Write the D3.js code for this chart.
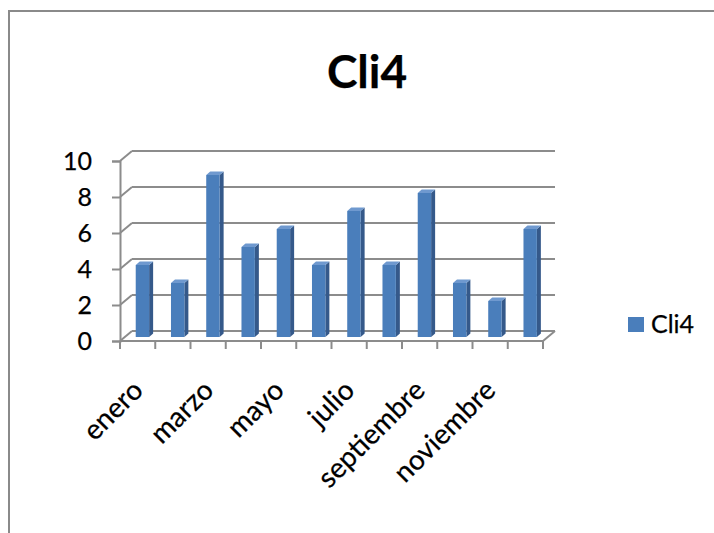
<!DOCTYPE html>
<html>
<head>
<meta charset="utf-8">
<script src="https://cdn.jsdelivr.net/npm/d3@7"></script>
<style>
  html, body { margin: 0; padding: 0; background: #fff; }
  svg { display: block; }
  text { font-family: Lato, "Open Sans", sans-serif; fill: #000; stroke: #000; stroke-width: 0.25px; }
</style>
</head>
<body>
<script>
// Monthly counts for Cli4
const months = ["enero", "febrero", "marzo", "abril", "mayo", "junio",
                "julio", "agosto", "septiembre", "octubre", "noviembre", "diciembre"];
const values = [4, 3, 9, 5, 6, 4, 7, 4, 8, 3, 2, 6];
const yTicks = [0, 2, 4, 6, 8, 10];
const shownLabels = ["enero", "marzo", "mayo", "julio", "septiembre", "noviembre"];
const seriesName = "Cli4";

const W = 714, H = 533;
const svg = d3.select("body").append("svg").attr("width", W).attr("height", H);

// chart area frame (runs off the right and bottom edges)
svg.append("rect")
  .attr("x", 9).attr("y", 11).attr("width", 720).attr("height", 540)
  .attr("fill", "#fff").attr("stroke", "#8a8a8a").attr("stroke-width", 2);

// 3D projection: depth offset of the back wall
const DX = 12, DY = -10;

const x = d3.scaleBand().domain(months).range([120, 543]).padding(0);
const y = d3.scaleLinear().domain([0, 10]).range([341, 161]);

const gridColor = "#8c8c8c";
const grid = svg.append("g").attr("stroke", gridColor).attr("stroke-width", 2).attr("fill", "none");

// back wall gridlines with side-wall connectors
yTicks.forEach(v => {
  grid.append("line")
    .attr("x1", x.range()[0] + DX).attr("x2", x.range()[1] + DX)
    .attr("y1", y(v) + DY).attr("y2", y(v) + DY);
  grid.append("line")
    .attr("x1", x.range()[0]).attr("y1", y(v))
    .attr("x2", x.range()[0] + DX).attr("y2", y(v) + DY);
});
// floor front edge and right connector
grid.append("line")
  .attr("x1", x.range()[0]).attr("x2", x.range()[1])
  .attr("y1", y(0)).attr("y2", y(0));
grid.append("line")
  .attr("x1", x.range()[1]).attr("y1", y(0))
  .attr("x2", x.range()[1] + DX).attr("y2", y(0) + DY);

// value axis
const yAxis = d3.axisLeft(y).tickValues(yTicks).tickSize(8).tickPadding(20);
const ya = svg.append("g").attr("transform", `translate(${x.range()[0]},0)`).call(yAxis);
ya.select(".domain").attr("stroke", gridColor).attr("stroke-width", 2);
ya.selectAll(".tick line").attr("stroke", gridColor).attr("stroke-width", 2);
ya.selectAll(".tick text").style("font-size", "25px").attr("fill", "#000");

// category axis tick marks at band boundaries
const ticksX = months.map(m => x(m)).concat([x.range()[1]]);
svg.append("g").attr("stroke", gridColor).attr("stroke-width", 2)
  .selectAll("line").data(ticksX).join("line")
  .attr("x1", d => d).attr("x2", d => d)
  .attr("y1", y(0)).attr("y2", y(0) + 8);

// category labels (every other month), rotated
svg.append("g").selectAll("text").data(shownLabels).join("text")
  .attr("transform", d => `translate(${x(d) + x.bandwidth() / 2 + 7},392) rotate(-45)`)
  .attr("text-anchor", "end")
  .style("font-size", "28px")
  .text(d => d);

// 3D bars: front face, right side, top
const bw = x.bandwidth() * 0.38;
const depthFrac = 0.4;
const bdx = 4, bdy = -3.5;
const bars = svg.append("g").selectAll("g").data(months.map((m, i) => ({ m, v: values[i] }))).join("g");
bars.each(function (d) {
  const g = d3.select(this);
  const x0 = x(d.m) + (x.bandwidth() - bw) / 2 + DX * depthFrac;
  const yb = y(0) + DY * depthFrac;
  const yt = y(d.v) + DY * depthFrac;
  const x1 = x0 + bw;
  g.append("polygon")
    .attr("points", [[x1, yt], [x1 + bdx, yt + bdy], [x1 + bdx, yb + bdy], [x1, yb]].join(" "))
    .attr("fill", "#35598a");
  g.append("polygon")
    .attr("points", [[x0, yt], [x0 + bdx, yt + bdy], [x1 + bdx, yt + bdy], [x1, yt]].join(" "))
    .attr("fill", "#6f99cf");
  g.append("rect")
    .attr("x", x0).attr("y", yt).attr("width", bw).attr("height", yb - yt)
    .attr("fill", "#4a7ebb");
});

// title
svg.append("text")
  .attr("x", 367).attr("y", 88)
  .attr("text-anchor", "middle")
  .style("font-size", "46px").style("font-weight", "bold")
  .text(seriesName);

// legend
const lg = svg.append("g").attr("transform", "translate(628,317)");
lg.append("rect").attr("width", 16).attr("height", 15).attr("fill", "#4a7ebb");
lg.append("text").attr("x", 23).attr("y", 16).style("font-size", "25px").text(seriesName);
</script>
</body>
</html>
